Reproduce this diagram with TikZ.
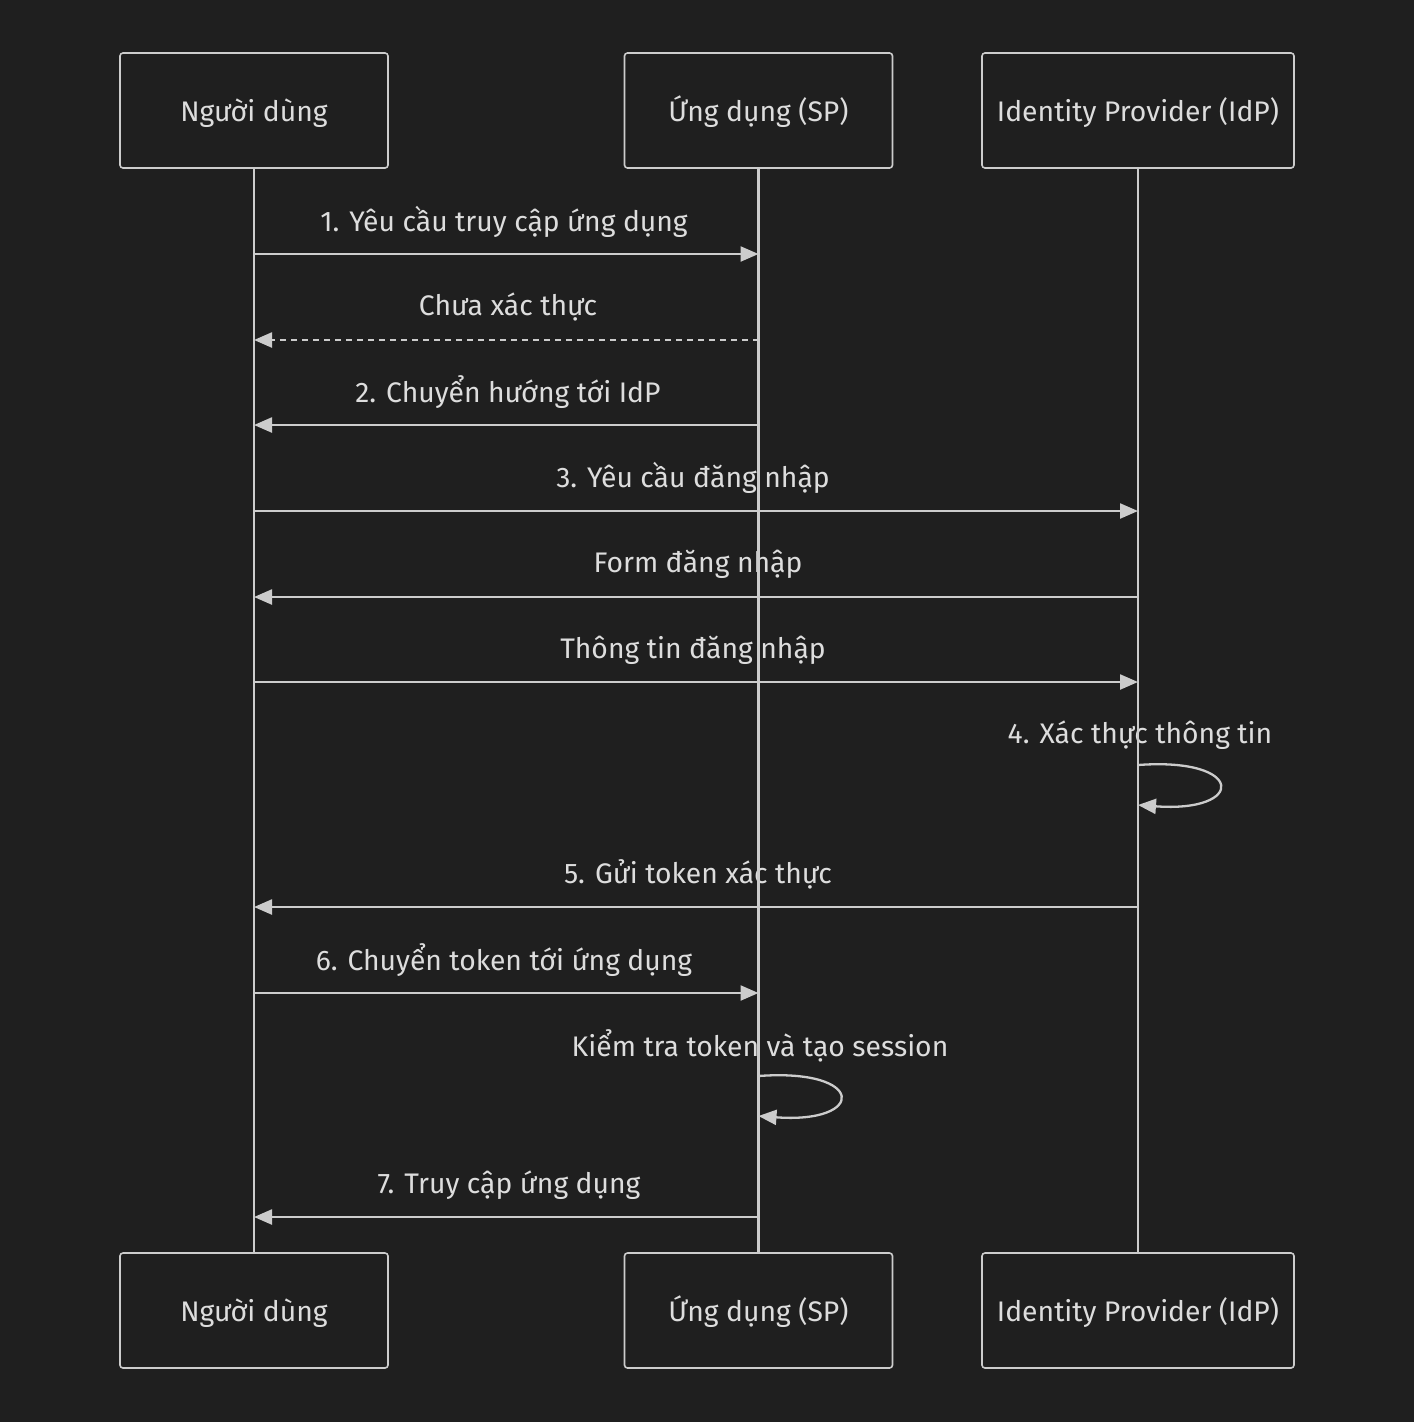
\documentclass[tikz,border=0pt]{standalone}
\usepackage{fontspec}
\setmainfont{Fira Sans}
\usetikzlibrary{arrows.meta}
\definecolor{bg}{HTML}{1F1F1F}
\definecolor{fg}{HTML}{CCCCCC}
\definecolor{txt}{HTML}{DDDDDD}
\begin{document}
\begin{tikzpicture}[x=1pt,y=-1pt,
  actor/.style={draw=fg,line width=1.6pt,fill=bg,rounded corners=3pt,minimum width=268pt,minimum height=115pt,text=txt,font=\fontsize{28.3}{32}\selectfont,inner sep=0pt,text height=28pt,text depth=6pt},
  life/.style={draw=fg,line width=2.3pt},
  msg/.style={draw=fg,line width=2.3pt,-{Triangle[length=18pt,width=15pt]}},
  lbl/.style={text=txt,font=\fontsize{28.3}{32}\selectfont,inner sep=0pt}]
\fill[bg] (0,0) rectangle (1414,1422);
\useasboundingbox (0,0) rectangle (1414,1422);
% top actors
\node[actor] (a1) at (254,110.5) {Người dùng};
\node[actor] (b1) at (758.5,110.5) {Ứng dụng (SP)};
\node[actor,minimum width=312pt] (c1) at (1138,110.5) {Identity Provider (IdP)};
\node[actor] (a2) at (254,1310.5) {Người dùng};
\node[actor] (b2) at (758.5,1310.5) {Ứng dụng (SP)};
\node[actor,minimum width=312pt] (c2) at (1138,1310.5) {Identity Provider (IdP)};
% labels
\node[lbl] (l1) at (504,222) {1. Yêu cầu truy cập ứng dụng};
\node[lbl] (l2) at (508,307) {Chưa xác thực};
\node[lbl] (l3) at (508,392) {2. Chuyển hướng tới IdP};
\node[lbl] (l4) at (693,478) {3. Yêu cầu đăng nhập};
\node[lbl] (l5) at (698,564) {Form đăng nhập};
\node[lbl] (l6) at (693,650) {Thông tin đăng nhập};
\node[lbl] (l7) at (1140,735) {4. Xác thực thông tin};
\node[lbl] (l8) at (698,874) {5. Gửi token xác thực};
\node[lbl] (l9) at (504,960) {6. Chuyển token tới ứng dụng};
\node[lbl] (l10) at (760,1046) {Kiểm tra token và tạo session};
\node[lbl] (l11) at (509,1185) {7. Truy cập ứng dụng};
% lifelines
\draw[life] (a1.south) -- (a2.north);
\draw[life] (b1.south) -- (b2.north);
\draw[life] (c1.south) -- (c2.north);
% message coordinates
\foreach \y/\n in {254/1,340/2,425/3,511/4,597/5,682/6,765/7,805/7e,907/8,993/9,1076/10,1116/10e,1217/11}{
  \coordinate (A\n) at (254,\y);
  \coordinate (B\n) at (758.5,\y);
  \coordinate (C\n) at (1138,\y);
}
\draw[msg] (A1) -- (B1);
\draw[msg,dashed,dash pattern=on 6pt off 5pt] (B2) -- (A2);
\draw[msg] (B3) -- (A3);
\draw[msg] (A4) -- (C4);
\draw[msg] (C5) -- (A5);
\draw[msg] (A6) -- (C6);
\draw[msg] (C7) .. controls (1246,757) and (1246,813) .. (C7e);
\draw[msg] (C8) -- (A8);
\draw[msg] (A9) -- (B9);
\draw[msg] (B10) .. controls (866.5,1068) and (866.5,1124) .. (B10e);
\draw[msg] (B11) -- (A11);
\end{tikzpicture}
\end{document}
